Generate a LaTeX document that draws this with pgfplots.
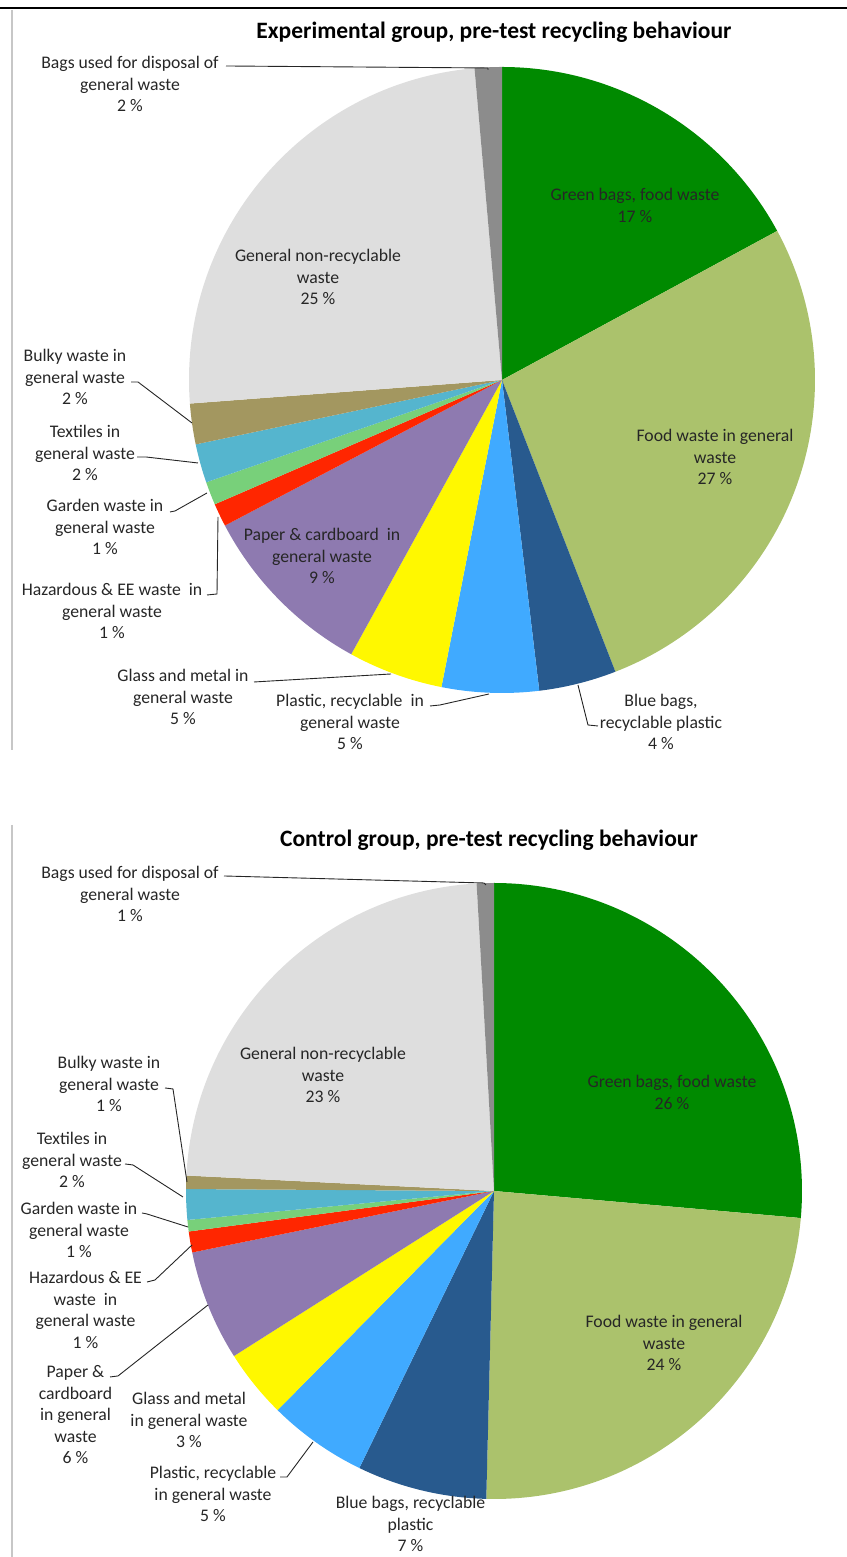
\documentclass[border=0pt]{standalone}
\usepackage{pgfplots}
\pgfplotsset{compat=1.18}
\usepackage{pgfplotstable}
\usepackage{fontspec}
\setmainfont{Carlito}

\definecolor{cGreen}{RGB}{0,138,0}
\definecolor{cFood}{RGB}{171,194,108}
\definecolor{cBlue}{RGB}{40,90,142}
\definecolor{cPlastic}{RGB}{64,170,255}
\definecolor{cGlass}{RGB}{255,248,0}
\definecolor{cPaper}{RGB}{142,122,176}
\definecolor{cHaz}{RGB}{255,38,0}
\definecolor{cGarden}{RGB}{120,208,122}
\definecolor{cTex}{RGB}{85,181,206}
\definecolor{cBulky}{RGB}{163,151,96}
\definecolor{cGeneral}{RGB}{222,222,222}
\definecolor{cBags}{RGB}{140,140,140}

% shares in percent, clockwise from 12 o'clock
\pgfplotstableread{
share colour
17.1 cGreen
27.0 cFood
4.0 cBlue
5.0 cPlastic
4.9 cGlass
9.3 cPaper
1.2 cHaz
1.2 cGarden
2.0 cTex
2.1 cBulky
24.8 cGeneral
1.4 cBags
}\expdata

\pgfplotstableread{
share colour
26.4 cGreen
24.0 cFood
6.8 cBlue
5.2 cPlastic
3.6 cGlass
5.8 cPaper
1.1 cHaz
0.6 cGarden
1.6 cTex
0.7 cBulky
23.3 cGeneral
0.9 cBags
}\condata

\newcommand\pieslices[2]{%
  \pgfplotstablegetrowsof{#1}%
  \pgfmathtruncatemacro\nrows{\pgfplotsretval-1}%
  \def\cumshare{0}%
  \pgfplotsforeachungrouped \i in {0,...,\nrows}{%
    \pgfplotstablegetelem{\i}{share}\of{#1}\let\sliceval\pgfplotsretval
    \pgfplotstablegetelem{\i}{colour}\of{#1}\let\slicecol\pgfplotsretval
    \pgfmathsetmacro\angA{\cumshare*3.6}%
    \pgfmathsetmacro\angB{(\cumshare+\sliceval)*3.6}%
    \pgfmathsetmacro\sx{sin(\angA)}%
    \pgfmathsetmacro\sy{cos(\angA)}%
    \pgfmathsetmacro\sa{90-\angA}%
    \pgfmathsetmacro\ea{90-\angB}%
    \edef\doslice{\noexpand\fill[\slicecol] (axis cs:0,0) -- (axis cs:\sx,\sy)
      arc[start angle=\sa, end angle=\ea, radius=#2] -- cycle;}%
    \doslice
    \pgfmathsetmacro\cumshare{\cumshare+\sliceval}%
  }%
}

\tikzset{
  lab/.style={align=center, font=\fontsize{17.7bp}{21.5bp}\selectfont, text=black!85, inner sep=0pt},
  ttl/.style={font=\fontsize{23.5bp}{28bp}\selectfont\bfseries, text=black, inner sep=0pt},
  leader/.style={black!85, line width=0.9bp},
}

\begin{document}
\begin{tikzpicture}
\useasboundingbox (0,0) rectangle (847bp,1557bp);

% Experimental group pie
\begin{axis}[at={(502bp,1177bp)}, anchor=center, width=626bp, height=626bp,
  scale only axis, xmin=-1, xmax=1, ymin=-1, ymax=1, hide axis, clip=false]
  \pieslices{\expdata}{313bp}
\end{axis}

% Control group pie
\begin{axis}[at={(494bp,366bp)}, anchor=center, width=616bp, height=616bp,
  scale only axis, xmin=-1, xmax=1, ymin=-1, ymax=1, hide axis, clip=false]
  \pieslices{\condata}{308bp}
\end{axis}

\begin{scope}[x=1bp, y=-1bp, yshift=1557bp]
  % frames
  \draw[black, line width=2bp] (0,8) -- (847,8);
  \draw[black!22, line width=2.5bp] (12,10) -- (12,750);
  \draw[black!22, line width=2.5bp] (12,825) -- (12,1557);

  % ---- Experimental ----
  \node[ttl] at (494,32) {Experimental group, pre-test recycling behaviour};
  \node[lab] at (130,84) {Bags used for disposal of\\general waste\\2 \%};
  \node[lab] at (318,277) {General non-recyclable\\waste\\25 \%};
  \node[lab] at (635,205.5) {Green bags, food waste\\17 \%};
  \node[lab] at (715,457) {Food waste in general\\waste\\27 \%};
  \node[lab] at (75,377) {Bulky waste in\\general waste\\2 \%};
  \node[lab] at (85,453) {Textiles in\\general waste\\2 \%};
  \node[lab] at (105,527) {Garden waste in\\general waste\\1 \%};
  \node[lab] at (112,611) {Hazardous \& EE waste\ \ in\\general waste\\1 \%};
  \node[lab] at (322,556) {Paper \& cardboard\ \ in\\general waste\\9 \%};
  \node[lab] at (183,697) {Glass and metal in\\general waste\\5 \%};
  \node[lab] at (350,722) {Plastic, recyclable\ \ in\\general waste\\5 \%};
  \node[lab] at (661,722) {Blue bags,\\recyclable plastic\\4 \%};

  \draw[leader] (226,66) -- (488,68) -- (488,70);
  \draw[leader] (131,382) -- (138,382) -- (192,423);
  \draw[leader] (137,457) -- (146,457) -- (198,463);
  \draw[leader] (170,512) -- (175,511) -- (207,493);
  \draw[leader] (207,595) -- (217,594) -- (218,517);
  \draw[leader] (254,682) -- (391,674);
  \draw[leader] (430,706) -- (440,705) -- (489,694);
  \draw[leader] (578,685) -- (588,725) -- (598,726);

  % ---- Control ----
  \node[ttl] at (489,840) {Control group, pre-test recycling behaviour};
  \node[lab] at (130,894) {Bags used for disposal of\\general waste\\1 \%};
  \node[lab] at (323,1075) {General non-recyclable\\waste\\23 \%};
  \node[lab] at (672,1092.5) {Green bags, food waste\\26 \%};
  \node[lab] at (664,1343) {Food waste in general\\waste\\24 \%};
  \node[lab] at (109,1084) {Bulky waste in\\general waste\\1 \%};
  \node[lab] at (72,1160) {Textiles in\\general waste\\2 \%};
  \node[lab] at (79,1230) {Garden waste in\\general waste\\1 \%};
  \node[lab] at (85.5,1310) {Hazardous \& EE\\waste\ \ in\\general waste\\1 \%};
  \node[lab] at (75.5,1415) {Paper \&\\cardboard\\in general\\waste\\6 \%};
  \node[lab] at (189,1420) {Glass and metal\\in general waste\\3 \%};
  \node[lab] at (213,1494) {Plastic, recyclable\\in general waste\\5 \%};
  \node[lab] at (410.5,1524) {Blue bags, recyclable\\plastic\\7 \%};

  \draw[leader] (224,876) -- (484,883) -- (486,885);
  \draw[leader] (165,1088) -- (173,1089) -- (187,1182);
  \draw[leader] (125,1164) -- (133,1165) -- (183,1197);
  \draw[leader] (142,1213) -- (147,1214) -- (188,1227);
  \draw[leader] (147,1282) -- (155,1280) -- (192,1245);
  \draw[leader] (110,1377) -- (118,1376) -- (208,1305);
  \draw[leader] (280,1477) -- (287,1477) -- (313,1442);
\end{scope}
\end{tikzpicture}
\end{document}
